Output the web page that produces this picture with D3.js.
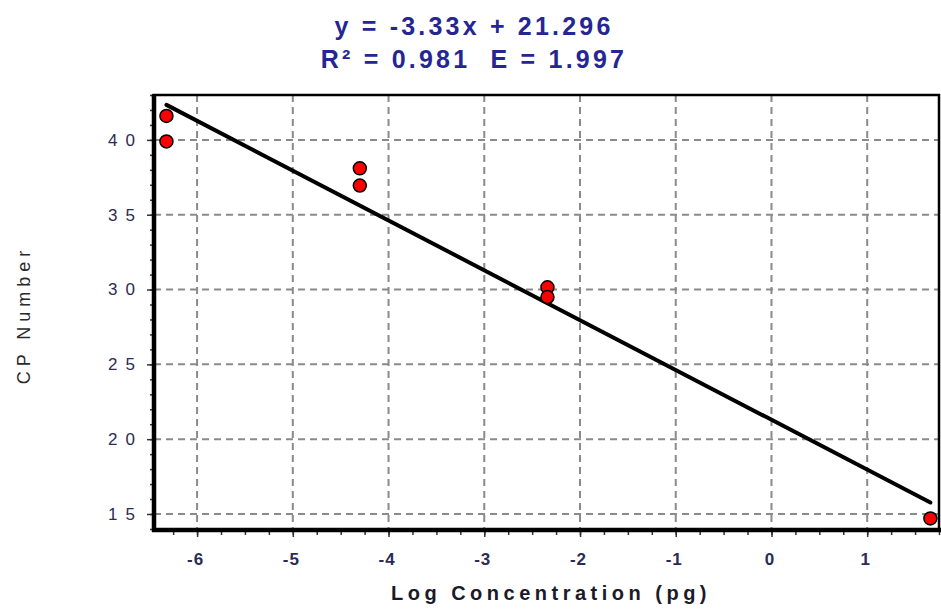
<!DOCTYPE html>
<html><head><meta charset="utf-8">
<script src="https://cdn.jsdelivr.net/npm/d3@7"></script>
<style>body{margin:0;background:#fff}svg{display:block}</style>
</head><body>
<svg id="c" width="941" height="610"></svg>
<script>
const logConc = [-6.32, -6.32, -4.30, -4.30, -2.34, -2.34, 1.66];
const cpValues = [41.6, 39.9, 38.1, 36.95, 30.15, 29.5, 14.7];
const xTicks = [-6, -5, -4, -3, -2, -1, 0, 1];
const yTicks = [15, 20, 25, 30, 35, 40];
const slope = -3.33, intercept = 21.296;
const titleLines = ["y = -3.33x + 21.296", "R\u00B2 = 0.981  E = 1.997"];

const svg = d3.select("#c");
const L = 154, R = 939, T = 95, B = 530;
const x = d3.scaleLinear().domain([-6.45, 1.75]).range([L, R]);
const y = d3.scaleLinear().domain([13.93, 43]).range([B, T]);
const font = "Liberation Sans, Arial, sans-serif";

// grid
const g = svg.append("g");
g.selectAll("line.v").data(xTicks).join("line")
  .attr("x1", d => x(d)).attr("x2", d => x(d)).attr("y1", T).attr("y2", B)
  .attr("stroke", "#8a8a8a").attr("stroke-width", 2).attr("stroke-dasharray", "7,5");
g.selectAll("line.h").data(yTicks).join("line")
  .attr("y1", d => y(d)).attr("y2", d => y(d)).attr("x1", L).attr("x2", R)
  .attr("stroke", "#8a8a8a").attr("stroke-width", 2).attr("stroke-dasharray", "7,5");

// axes
const xMinor = d3.range(-6.25, 1.76, 0.25);
const yMinor = d3.range(14, 43.1, 1);
const fmt = d => String(d);
const xAx = svg.append("g").attr("transform", `translate(0,${B})`)
  .call(d3.axisBottom(x).tickValues(xMinor).tickSize(5).tickFormat(""));
xAx.select(".domain").remove();
const xMaj = svg.append("g").attr("transform", `translate(0,${B})`)
  .call(d3.axisBottom(x).tickValues(xTicks).tickSize(7).tickPadding(16).tickFormat(fmt));
xMaj.select(".domain").remove();
const yAx = svg.append("g").attr("transform", `translate(${L},0)`)
  .call(d3.axisLeft(y).tickValues(yMinor).tickSize(4).tickFormat(""));
yAx.select(".domain").remove();
const yMaj = svg.append("g").attr("transform", `translate(${L},0)`)
  .call(d3.axisLeft(y).tickValues(yTicks).tickSize(7).tickPadding(4).tickFormat(fmt));
yMaj.select(".domain").remove();
svg.selectAll(".tick line").attr("stroke", "#333").attr("stroke-width", 1.5);
xMaj.selectAll(".tick text").attr("font-family", font).attr("font-weight", "bold")
  .attr("font-size", 17).attr("fill", "#2b2b55").attr("letter-spacing", 1).attr("dx", "-2");
yMaj.selectAll(".tick text").attr("font-family", font)
  .attr("font-size", 17).attr("fill", "#2b2b55").attr("letter-spacing", 8);

// frame
svg.append("rect").attr("x", L).attr("y", T).attr("width", R - L).attr("height", B - T)
  .attr("fill", "none").attr("stroke", "#000").attr("stroke-width", 2.5);
svg.append("line").attr("x1", L).attr("x2", L).attr("y1", T - 1).attr("y2", B + 2)
  .attr("stroke", "#000").attr("stroke-width", 4.5);
svg.append("line").attr("x1", L - 2).attr("x2", R + 2).attr("y1", B).attr("y2", B)
  .attr("stroke", "#000").attr("stroke-width", 4.5);

// regression line
const xr = d3.extent(logConc);
svg.append("line")
  .attr("x1", x(xr[0])).attr("y1", y(slope * xr[0] + intercept))
  .attr("x2", x(xr[1])).attr("y2", y(slope * xr[1] + intercept))
  .attr("stroke", "#000").attr("stroke-width", 4).attr("stroke-linecap", "round");

// points
svg.selectAll("circle.p").data(logConc).join("circle")
  .attr("cx", d => x(d)).attr("cy", (d, i) => y(cpValues[i])).attr("r", 6.5)
  .attr("fill", "#ff0000").attr("stroke", "#000").attr("stroke-width", 1.5);

// titles
svg.selectAll("text.t").data(titleLines).join("text")
  .attr("x", 474).attr("y", (d, i) => 35 + i * 33).attr("text-anchor", "middle")
  .attr("font-family", font).attr("font-weight", "bold")
  .attr("font-size", 25).attr("fill", "#262693").attr("letter-spacing", 3.2)
  .style("white-space", "pre").text(d => d);

svg.append("text").attr("x", 551).attr("y", 600).attr("text-anchor", "middle")
  .attr("font-family", font).attr("font-weight", "bold")
  .attr("font-size", 20).attr("letter-spacing", 4.5).attr("fill", "#1a1a2a")
  .text("Log Concentration (pg)");
svg.append("text").attr("transform", "translate(30,315) rotate(-90)").attr("text-anchor", "middle")
  .attr("font-family", font)
  .attr("font-size", 18).attr("letter-spacing", 5).attr("fill", "#2a2a2a")
  .text("CP Number");
</script>
</body></html>
